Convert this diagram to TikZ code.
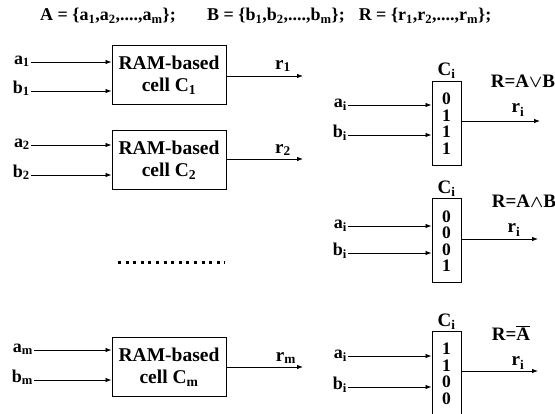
\documentclass[tikz,border=0pt]{standalone}
\usepackage{fontspec}
\setmainfont{Liberation Serif}
\usetikzlibrary{positioning,arrows.meta}

\begin{document}
\begin{tikzpicture}[x=1pt, y=-1pt]
	\tikzset{
		cell/.style={draw, line width=1pt, minimum width=114pt, minimum height=59pt, inner sep=0pt, align=center, font=\fontsize{19.5}{22}\selectfont\bfseries},
		mem/.style={draw, line width=1pt, minimum width=29pt, minimum height=84pt, inner sep=0pt, align=center, font=\fontsize{17.5}{16.5}\selectfont\bfseries},
		lbl/.style={inner sep=1pt, anchor=mid east, font=\fontsize{18}{18}\selectfont\bfseries},
		txt/.style={inner sep=1pt, font=\fontsize{19}{20}\selectfont\bfseries},
		title/.style={inner sep=1pt, font=\fontsize{18}{20}\selectfont\bfseries},
		arr/.style={line width=0.8pt, -{Latex[length=6pt, width=4.5pt]}}
	}
	\useasboundingbox (0,0) rectangle (555,414);
	
	% ---- sets ----
	\node[title] (setA) at (108,16) {A = \{a\textsubscript{1},a\textsubscript{2},....,a\textsubscript{m}\};};
	\node[title] (setB) at (276,16) {B = \{b\textsubscript{1},b\textsubscript{2},....,b\textsubscript{m}\};};
	\node[title] (setR) at (425,16) {R = \{r\textsubscript{1},r\textsubscript{2},....,r\textsubscript{m}\};};
	
	% ---- cell 1 ----
	\node[cell] (c1) at (169,75.5) {RAM-based\\cell C\textsubscript{1}};
	\node[lbl] (a1) at (31,62) {a\textsubscript{1}};
	\node[lbl] (b1) at (31,91) {b\textsubscript{1}};
	\coordinate (o1) at (303,76);
	\node[txt] (r1) at (283,66) {r\textsubscript{1}};
	\draw[arr] (a1.mid east) -- (a1.mid east -| c1.west);
	\draw[arr] (b1.mid east) -- (b1.mid east -| c1.west);
	\draw[arr] (c1.east |- o1) -- (o1);
	
	% ---- cell 2 ----
	\node[cell] (c2) at (169,160) {RAM-based\\cell C\textsubscript{2}};
	\node[lbl] (a2) at (31,145) {a\textsubscript{2}};
	\node[lbl] (b2) at (31,175) {b\textsubscript{2}};
	\coordinate (o2) at (303,159);
	\node[txt] (r2) at (283,150) {r\textsubscript{2}};
	\draw[arr] (a2.mid east) -- (a2.mid east -| c2.west);
	\draw[arr] (b2.mid east) -- (b2.mid east -| c2.west);
	\draw[arr] (c2.east |- o2) -- (o2);
	
	% ---- dots ----
	\draw[line width=3pt, dash pattern=on 3pt off 4.6pt] (118,263) -- (225,263);
	
	% ---- cell m ----
	\node[cell] (cm) at (169,367) {RAM-based\\cell C\textsubscript{m}};
	\node[lbl] (am) at (34,350) {a\textsubscript{m}};
	\node[lbl] (bm) at (34,380) {b\textsubscript{m}};
	\coordinate (om) at (303,367);
	\node[txt] (rm) at (286,358) {r\textsubscript{m}};
	\draw[arr] (am.mid east) -- (am.mid east -| cm.west);
	\draw[arr] (bm.mid east) -- (bm.mid east -| cm.west);
	\draw[arr] (cm) -- (om);
	
	% ---- OR ----
	\node[mem] (m1) at (446.5,123.5) {0\\1\\1\\1};
	\node[txt, above=1pt of m1] (t1) {C\textsubscript{i}};
	\node[lbl] (ai1) at (348,105) {a\textsubscript{i}};
	\node[lbl] (bi1) at (348,135) {b\textsubscript{i}};
	\coordinate (ro1) at (540,121);
	\node[txt] (ri1) at (518,110) {r\textsubscript{i}};
	\node[txt] (f1) at (523,81) {R=A{\boldmath$\vee$}B};
	\draw[arr] (ai1.mid east) -- (ai1.mid east -| m1.west);
	\draw[arr] (bi1.mid east) -- (bi1.mid east -| m1.west);
	\draw[arr] (m1.east |- ro1) -- (ro1);
	
	% ---- AND ----
	\node[mem] (m2) at (446.5,241) {0\\0\\0\\1};
	\node[txt, above=1pt of m2] (t2) {C\textsubscript{i}};
	\node[lbl] (ai2) at (348,226) {a\textsubscript{i}};
	\node[lbl] (bi2) at (348,253) {b\textsubscript{i}};
	\coordinate (ro2) at (538,239);
	\node[txt] (ri2) at (514,230) {r\textsubscript{i}};
	\node[txt] (f2) at (524,201) {R=A{\boldmath$\wedge$}B};
	\draw[arr] (ai2.mid east) -- (ai2.mid east -| m2.west);
	\draw[arr] (bi2.mid east) -- (bi2.mid east -| m2.west);
	\draw[arr] (m2.east |- ro2) -- (ro2);
	
	% ---- NOT ----
	\node[mem] (m3) at (446.5,374) {1\\1\\0\\0};
	\node[txt, above=1pt of m3] (t3) {C\textsubscript{i}};
	\node[lbl] (ai3) at (348,356) {a\textsubscript{i}};
	\node[lbl] (bi3) at (348,387) {b\textsubscript{i}};
	\coordinate (ro3) at (538,371);
	\node[txt] (ri3) at (518,363) {r\textsubscript{i}};
	\node[txt] (f3) at (511,333) {R=$\overline{\hbox{A}}$};
	\draw[arr] (ai3.mid east) -- (ai3.mid east -| m3.west);
	\draw[arr] (bi3.mid east) -- (bi3.mid east -| m3.west);
	\draw[arr] (m3.east |- ro3) -- (ro3);
\end{tikzpicture}
\end{document}
